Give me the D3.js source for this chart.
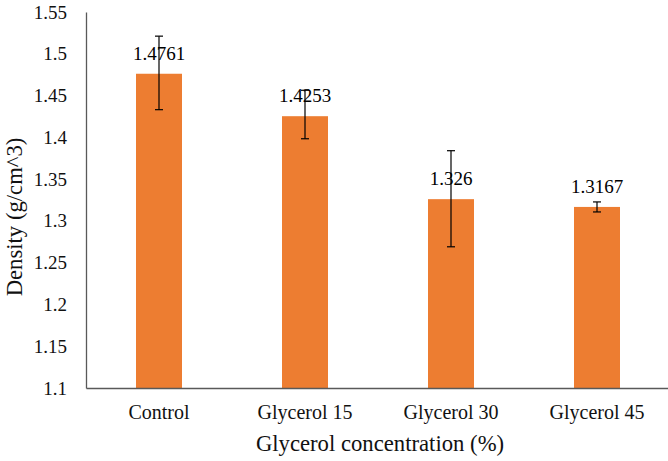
<!DOCTYPE html>
<html>
<head>
<meta charset="utf-8">
<script src="https://cdn.jsdelivr.net/npm/d3@7"></script>
<style>
  body { margin: 0; background: #fff; }
</style>
</head>
<body>
<div id="chart"></div>
<script>
const categories = ["Control", "Glycerol 15", "Glycerol 30", "Glycerol 45"];
const density = [1.4761, 1.4253, 1.326, 1.3167];
const errUp = [0.045, 0.031, 0.058, 0.006];
const errDown = [0.043, 0.027, 0.057, 0.006];
const yTicks = [1.1, 1.15, 1.2, 1.25, 1.3, 1.35, 1.4, 1.45, 1.5, 1.55];

const W = 668, H = 461;
const MARGIN = {TOP: 12, BOTTOM: 73, LEFT: 86, RIGHT: -2};
const FONT = '"Liberation Serif"';

const svg = d3.select("#chart").append("svg")
  .attr("width", W).attr("height", H);

const x = d3.scaleBand()
  .domain(categories)
  .range([MARGIN.LEFT, W - MARGIN.RIGHT])
  .padding(0);
const y = d3.scaleLinear()
  .domain([1.1, 1.55])
  .range([H - MARGIN.BOTTOM, MARGIN.TOP]);

const barW = x.bandwidth() * 0.315;
const data = categories.map((c, i) => ({name: c, v: density[i], up: errUp[i], dn: errDown[i]}));
const cx = d => x(d.name) + x.bandwidth() / 2;

// bars
svg.selectAll("rect.bar").data(data).enter().append("rect")
  .attr("class", "bar")
  .attr("x", d => cx(d) - barW / 2)
  .attr("y", d => y(d.v))
  .attr("width", barW)
  .attr("height", d => y(1.1) - y(d.v))
  .attr("fill", "#ED7D31");

// y axis
const yAxis = svg.append("g")
  .attr("transform", `translate(${MARGIN.LEFT},0)`)
  .call(d3.axisLeft(y).tickValues(yTicks).tickSize(0).tickPadding(19).tickFormat(d3.format("")));
yAxis.select(".domain").attr("stroke", "#595959").attr("stroke-width", 1.3);
yAxis.selectAll("text").attr("font-size", 19).attr("fill", "#111")
  .attr("font-family", FONT);

// x axis
const xAxis = svg.append("g")
  .attr("transform", `translate(0,${y(1.1)})`)
  .call(d3.axisBottom(x).tickSize(0).tickPadding(17));
xAxis.select(".domain").attr("stroke", "#595959").attr("stroke-width", 1.3);
xAxis.selectAll("text").attr("font-size", 20).attr("fill", "#111")
  .attr("font-family", FONT);

// error bars
const eb = svg.selectAll("g.err").data(data).enter().append("g").attr("class", "err")
  .attr("stroke", "#000").attr("stroke-width", 1.2);
eb.append("line")
  .attr("x1", cx).attr("x2", cx)
  .attr("y1", d => y(d.v + d.up)).attr("y2", d => y(d.v - d.dn));
eb.append("line")
  .attr("x1", d => cx(d) - 4).attr("x2", d => cx(d) + 4)
  .attr("y1", d => y(d.v + d.up)).attr("y2", d => y(d.v + d.up));
eb.append("line")
  .attr("x1", d => cx(d) - 4).attr("x2", d => cx(d) + 4)
  .attr("y1", d => y(d.v - d.dn)).attr("y2", d => y(d.v - d.dn));

// data labels
svg.selectAll("text.lbl").data(data).enter().append("text")
  .attr("class", "lbl")
  .attr("x", cx)
  .attr("y", d => y(d.v) - 14)
  .attr("text-anchor", "middle")
  .attr("font-size", 19)
  .attr("font-family", FONT)
  .attr("fill", "#000")
  .text(d => d.v);

// axis titles
svg.append("text")
  .attr("x", 380).attr("y", 451)
  .attr("text-anchor", "middle")
  .attr("font-size", 22.7)
  .attr("font-family", FONT)
  .attr("fill", "#111")
  .text("Glycerol concentration (%)");

svg.append("text")
  .attr("transform", "translate(22,217) rotate(-90)")
  .attr("text-anchor", "middle")
  .attr("font-size", 22.7)
  .attr("font-family", FONT)
  .attr("fill", "#111")
  .text("Density (g/cm^3)");
</script>
</body>
</html>
